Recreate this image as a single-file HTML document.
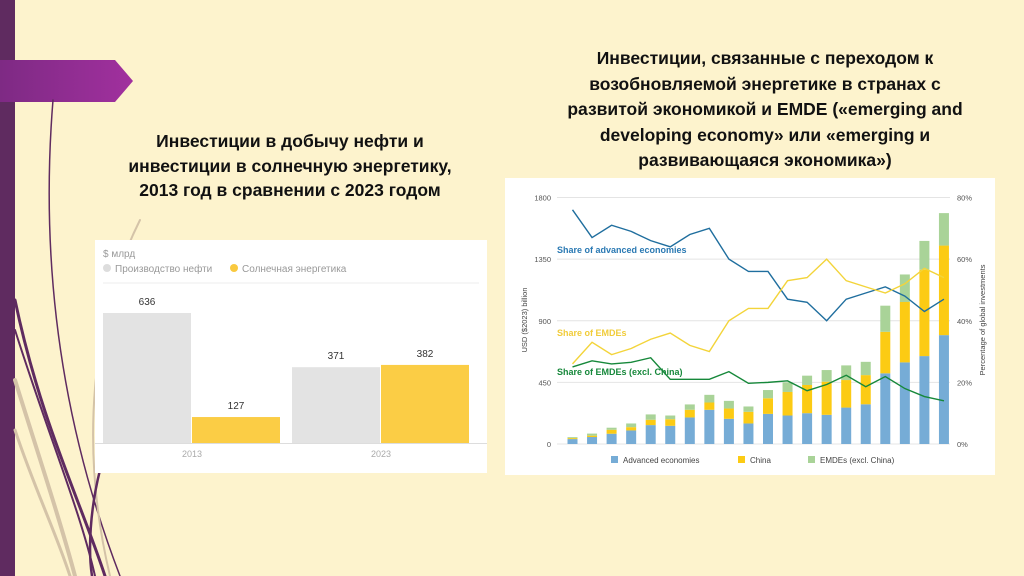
<!DOCTYPE html>
<html><head><meta charset="utf-8">
<style>
body{margin:0;width:1024px;height:576px;overflow:hidden;background:#fdf3cd;font-family:"Liberation Sans",sans-serif;position:relative}
.t{position:absolute;font-weight:bold;text-align:center;color:#111;font-size:17.5px;line-height:24.5px}
</style></head><body>
<svg style="position:absolute;left:0;top:0" width="1024" height="576">
<defs><linearGradient id="ag" x1="0" x2="1"><stop offset="0" stop-color="#7e2a84"/><stop offset="1" stop-color="#a1309e"/></linearGradient></defs>
<rect x="0" y="0" width="15" height="576" fill="#5f2b60"/>
<path d="M0 60 H115 L133 81 L115 102 H0Z" fill="url(#ag)"/>
<g fill="none" stroke-linecap="round">
<path d="M53 100 C40 260 60 420 120 576" stroke="#5f2b60" stroke-width="1.5"/>
<path d="M15 300 C40 420 80 500 105 576" stroke="#5f2b60" stroke-width="3"/>
<path d="M15 330 C50 440 80 510 95 576" stroke="#5f2b60" stroke-width="2"/>
<path d="M15 380 C40 460 60 520 75 576" stroke="#d4c3a8" stroke-width="4"/>
<path d="M15 430 C35 490 55 530 70 576" stroke="#d4c3a8" stroke-width="3"/>
<path d="M140 220 C90 320 80 450 110 576" stroke="#d4c3a8" stroke-width="2"/>
<path d="M100 470 C90 510 88 550 92 576" stroke="#5f2b60" stroke-width="2.5"/>
</g>
</svg>
<div class="t" style="left:80px;top:129px;width:420px">Инвестиции в добычу нефти и<br>инвестиции в солнечную энергетику,<br>2013 год в сравнении с 2023 годом</div>
<div class="t" style="left:500px;top:46px;width:530px;line-height:25.5px">Инвестиции, связанные с переходом к<br>возобновляемой энергетике в странах с<br>развитой экономикой и EMDE («emerging and<br>developing economy» или «emerging и<br>развивающаяся экономика»)</div>

<svg id="lc" style="position:absolute;left:95px;top:240px" width="392" height="233"></svg>
<svg id="rc" style="position:absolute;left:505px;top:178px" width="490" height="297"></svg>
<script>
const NS="http://www.w3.org/2000/svg";
function mk(p,tag,at,txt){const e=document.createElementNS(NS,tag);for(const k in at)e.setAttribute(k,at[k]);if(txt!==undefined)e.textContent=txt;p.appendChild(e);return e;}

// LEFT CHART
const lYears=["2013","2023"];
const lOil=[636,371];
const lSolar=[127,382];
(function(){
const s=document.getElementById('lc');
mk(s,'rect',{x:0,y:0,width:392,height:233,fill:'#fff'});
let t=mk(s,'text',{x:8,y:17,'font-size':10,fill:'#999'},'$ млрд');

let c=mk(s,'circle',{cx:12,cy:28,r:4,fill:'#ddd'});

t=mk(s,'text',{x:20,y:32,'font-size':10,fill:'#999'},'Производство нефти');

c=mk(s,'circle',{cx:139,cy:28,r:4,fill:'#f9c93f'});

t=mk(s,'text',{x:147,y:32,'font-size':10,fill:'#999'},'Солнечная энергетика');

mk(s,'line',{x1:8,x2:384,y1:43,y2:43,stroke:'#eee'});
const base=203,k=0.2044;const y=v=>base-v*k;
const gx=[8,197];
lYears.forEach((yr,i)=>{
 const x0=gx[i];
 let r=mk(s,'rect',{x:x0,y:y(lOil[i]),width:88,height:lOil[i]*k,fill:'#e3e3e3'});
 
 let tt=mk(s,'text',{x:x0+44,y:y(lOil[i])-8,'font-size':10,'text-anchor':'middle',fill:'#333'},String(lOil[i]));
 
 r=mk(s,'rect',{x:x0+89,y:y(lSolar[i]),width:88,height:lSolar[i]*k,fill:'#fbcd45'});
 
 tt=mk(s,'text',{x:x0+133,y:y(lSolar[i])-8,'font-size':10,'text-anchor':'middle',fill:'#333'},String(lSolar[i]));
 
 tt=mk(s,'text',{x:x0+89,y:base+14,'font-size':9,'text-anchor':'middle',fill:'#aaa'},yr);
 
});
mk(s,'line',{x1:0,x2:392,y1:base+0.5,y2:base+0.5,stroke:'#ddd'});
})();

// RIGHT CHART
const rAdv=[36,51,75,99,138,133,194,250,184,150,220,208,225,213,266,290,516,596,642,795];
const rChina=[7,10,29,24,39,48,56,53,75,85,114,172,206,242,201,213,303,441,630,654];
const rEmde=[7,15,15,27,39,27,39,56,56,39,60,70,68,85,107,97,191,201,211,237];
const shareAdv=[76,67,71,69,66,64,68,70,60,56,56,47,46,40,47,49,51,48,43,47];
const shareEmde=[26,33,29,31,34,36,32,30,40,44,44,53,54,60,53,51,49,52,57,54];
const shareEx=[25,27,26,26.5,28,21,21,21,23.5,19.7,20,20.5,17.3,19.3,22.3,18.6,21.9,18,15.4,14];
const leftTicks=[0,450,900,1350,1800];
const rightTicks=["0%","20%","40%","60%","80%"];
(function(){
const s=document.getElementById('rc');
mk(s,'rect',{x:0,y:0,width:490,height:297,fill:'#fff'});
const y0=266,yT=19.5,ph=y0-yT;
const yv=v=>y0-v/1800*ph, yp=p=>y0-p/80*ph;
const xc=i=>67.5+i*19.55;
leftTicks.forEach((v,i)=>{
 mk(s,'line',{x1:52,x2:445,y1:yv(v),y2:yv(v),stroke:'#e4e4e4'});
 let t=mk(s,'text',{x:46,y:yv(v)+3,'font-size':7.5,'text-anchor':'end',fill:'#555'},String(v));
 
 t=mk(s,'text',{x:452,y:yv(v)+3,'font-size':7.5,fill:'#555'},rightTicks[i]);
 
});
let t=mk(s,'text',{transform:'translate(22,142) rotate(-90)','font-size':7.5,'text-anchor':'middle',fill:'#444'},'USD ($2023) billion');

t=mk(s,'text',{transform:'translate(480,142) rotate(-90)','font-size':7.5,'text-anchor':'middle',fill:'#444'},'Percentage of global investments');

rAdv.forEach((a,i)=>{
 const c=rChina[i],e=rEmde[i],x=xc(i)-5;
 let r=mk(s,'rect',{x:x,y:yv(a),width:10,height:y0-yv(a),fill:'#76acd6'});
 
 r=mk(s,'rect',{x:x,y:yv(a+c),width:10,height:yv(a)-yv(a+c),fill:'#fccb14'});
 
 r=mk(s,'rect',{x:x,y:yv(a+c+e),width:10,height:yv(a+c)-yv(a+c+e),fill:'#a9d398'});
 
});
function line(arr,col,name){
 const p=mk(s,'polyline',{points:arr.map((v,i)=>xc(i)+','+yp(v)).join(' '),fill:'none',stroke:col,'stroke-width':1.4});
 
}
line(shareAdv,'#1f6e9e','line-share-advanced');
line(shareEmde,'#f3d43a','line-share-emdes');
line(shareEx,'#16883a','line-share-emdes-excl-china');
t=mk(s,'text',{x:52,y:75,'font-size':9,'font-weight':'bold',fill:'#2a79b3'},'Share of advanced economies');

t=mk(s,'text',{x:52,y:158,'font-size':9,'font-weight':'bold',fill:'#f1cc3a'},'Share of EMDEs');

t=mk(s,'text',{x:52,y:197,'font-size':9,'font-weight':'bold',fill:'#17883b'},'Share of EMDEs (excl. China)');

const leg=[['#76acd6','Advanced economies',106],['#fccb14','China',233],['#a9d398','EMDEs (excl. China)',303]];
leg.forEach(l=>{
 const r=mk(s,'rect',{x:l[2],y:278,width:7,height:7,fill:l[0]});
 
 const tt=mk(s,'text',{x:l[2]+12,y:285,'font-size':8,fill:'#444'},l[1]);
 
});
})();
</script>
</body></html>
